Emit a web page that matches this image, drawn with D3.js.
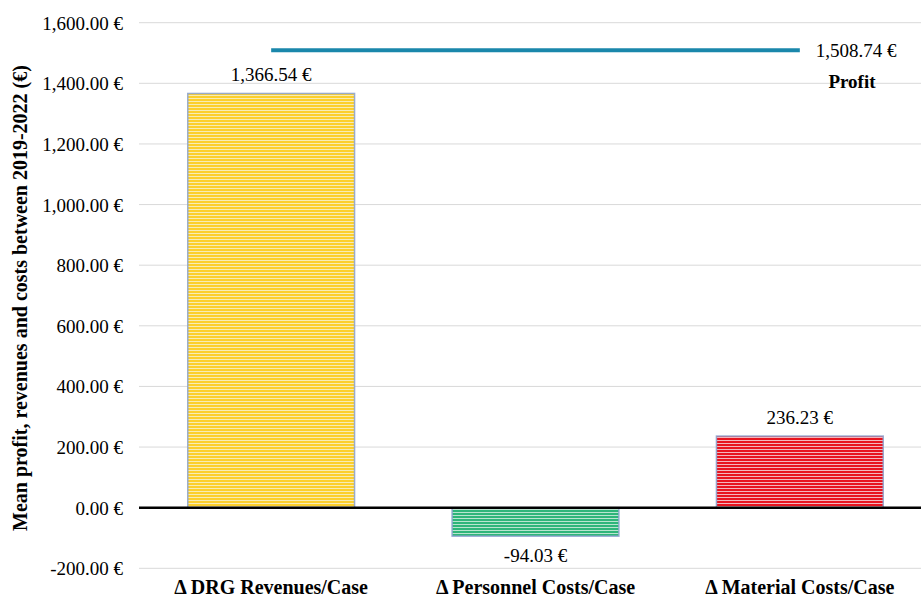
<!DOCTYPE html>
<html>
<head>
<meta charset="utf-8">
<script src="https://cdn.jsdelivr.net/npm/d3@7"></script>
<style>
  html, body { margin: 0; padding: 0; background: #fff; }
  svg { display: block; }
</style>
</head>
<body>
<svg id="chart" width="921" height="599"></svg>
<script>
// Mean change per case between 2019 and 2022
const categories = ["\u0394 DRG Revenues/Case", "\u0394 Personnel Costs/Case", "\u0394 Material Costs/Case"];
const barValues = [1366.54, -94.03, 236.23];
const profitValues = [1508.74, 1508.74, 1508.74];
const profitName = "Profit";
const yTicks = [-200, 0, 200, 400, 600, 800, 1000, 1200, 1400, 1600];
const yTitle = "Mean profit, revenues and costs between 2019-2022 (\u20ac)";

// stripe colours per bar: [strong, pale]
const stripeColors = [["#fccf2c", "#f7ecb5"], ["#2fb57a", "#b9e4cf"], ["#e8141f", "#f3b6bd"]];

const W = 921, H = 599;
const svg = d3.select("#chart");
const FONT = "'Liberation Serif', 'Times New Roman', serif";

const x = d3.scaleBand().domain(categories).range([139, 932]).paddingInner(0.369).paddingOuter(0.1845);
const y = d3.scaleLinear().domain([-200, 1600]).range([568.3, 22.7]);
const fmt = v => d3.format(",.2f")(v).replace("\u2212", "-") + " \u20ac";

// striped fills
const defs = svg.append("defs");
stripeColors.forEach((c, i) => {
  const p = defs.append("pattern").attr("id", "stripe" + i)
    .attr("patternUnits", "userSpaceOnUse").attr("width", 8).attr("height", 3);
  p.append("rect").attr("width", 8).attr("height", 3).attr("fill", c[1]);
  p.append("rect").attr("width", 8).attr("height", 2).attr("fill", c[0]);
});

// gridlines
svg.append("g").selectAll("line").data(yTicks.filter(d => d !== 0)).join("line")
  .attr("x1", 139).attr("x2", W)
  .attr("y1", d => y(d)).attr("y2", d => y(d))
  .attr("stroke", "#d9d9d9").attr("stroke-width", 1);

// y axis tick labels
const yAxis = d3.axisLeft(y).tickValues(yTicks).tickFormat(fmt).tickSize(0).tickPadding(0);
const gy = svg.append("g").attr("transform", "translate(123,0)").call(yAxis);
gy.select(".domain").remove();
gy.selectAll("text").attr("font-family", FONT).attr("font-size", 19).attr("fill", "#000")
  .attr("dy", "0.34em");

// bars
svg.append("g").selectAll("rect").data(barValues).join("rect")
  .attr("x", (d, i) => x(categories[i]))
  .attr("width", x.bandwidth())
  .attr("y", d => y(Math.max(0, d)))
  .attr("height", d => Math.abs(y(d) - y(0)))
  .attr("fill", (d, i) => `url(#stripe${i})`)
  .attr("stroke", "#8ea4cf").attr("stroke-width", 1.5).attr("stroke-opacity", 0.9);

// zero line
svg.append("line").attr("x1", 139).attr("x2", W).attr("y1", y(0)).attr("y2", y(0))
  .attr("stroke", "#000").attr("stroke-width", 2.5);

// bar value labels
svg.append("g").selectAll("text").data(barValues).join("text")
  .attr("x", (d, i) => x(categories[i]) + x.bandwidth() / 2)
  .attr("y", d => d >= 0 ? y(d) - 12 : y(d) + 26)
  .attr("text-anchor", "middle")
  .attr("font-family", FONT).attr("font-size", 19).attr("fill", "#000")
  .text(fmt);

// profit line
const cx = c => x(c) + x.bandwidth() / 2;
const line = d3.line().x((d, i) => cx(categories[i])).y(d => y(d));
svg.append("path").datum(profitValues).attr("d", line)
  .attr("fill", "none").attr("stroke", "#1a87ab").attr("stroke-width", 4);

const last = profitValues.length - 1;
svg.append("text")
  .attr("x", cx(categories[last]) + 16).attr("y", y(profitValues[last]))
  .attr("dy", "0.34em")
  .attr("font-family", FONT).attr("font-size", 19).attr("fill", "#000")
  .text(fmt(profitValues[last]));

svg.append("text")
  .attr("x", 852).attr("y", 88)
  .attr("text-anchor", "middle")
  .attr("font-family", FONT).attr("font-size", 19).attr("font-weight", "bold").attr("fill", "#000")
  .text(profitName);

// category labels
svg.append("g").selectAll("text").data(categories).join("text")
  .attr("x", d => cx(d)).attr("y", 594)
  .attr("text-anchor", "middle")
  .attr("font-family", FONT).attr("font-size", 20).attr("font-weight", "bold").attr("fill", "#000")
  .text(d => d);

// y axis title
svg.append("text")
  .attr("transform", "translate(27,298) rotate(-90)")
  .attr("text-anchor", "middle")
  .attr("font-family", FONT).attr("font-size", 20).attr("font-weight", "bold").attr("fill", "#000")
  .text(yTitle);
</script>
</body>
</html>
